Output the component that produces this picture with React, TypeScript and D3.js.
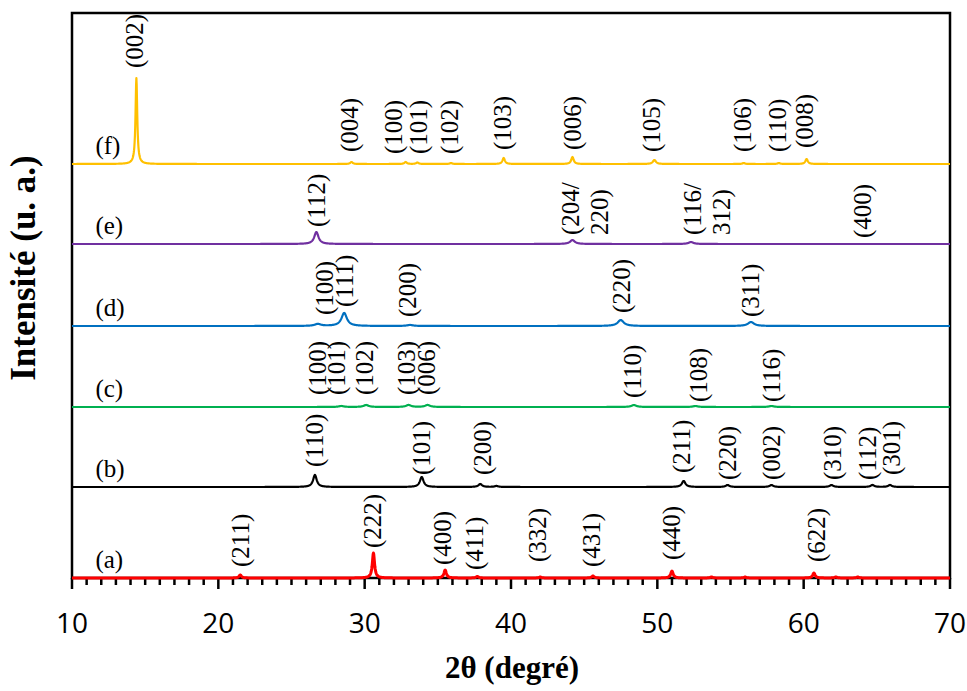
import React from "react";
import * as d3 from "d3";

// ---- data ----
const seriesNames = ["(a)", "(b)", "(c)", "(d)", "(e)", "(f)"];
const seriesColors = ["#FF0000", "#000000", "#00B050", "#0070C0", "#7030A0", "#FFC000"];
const seriesOffsets = [0, 91, 171, 252, 334, 414];
const seriesWidths = [3, 2.2, 2.2, 2.2, 2.2, 2.2];

// peaks: [2θ, height, FWHM]
const peaksA: [number, number, number][] = [
  [21.5, 3, 0.2], [30.6, 25, 0.18], [35.5, 8, 0.2], [37.7, 1.5, 0.2], [42.0, 1, 0.2],
  [45.6, 2, 0.2], [51.0, 7, 0.2], [53.7, 1, 0.2], [56.0, 1, 0.2], [60.7, 5, 0.2],
  [62.2, 1, 0.2], [63.7, 1, 0.2],
];
const peaksB: [number, number, number][] = [
  [26.6, 12, 0.3], [33.9, 10, 0.3], [37.9, 3, 0.3], [39.0, 1, 0.3], [51.8, 6, 0.3],
  [54.8, 2, 0.3], [57.8, 2, 0.3], [61.9, 2, 0.3], [64.7, 2, 0.3], [65.9, 2, 0.3],
];
const peaksC: [number, number, number][] = [
  [28.4, 1, 0.4], [30.1, 2, 0.4], [33.0, 2, 0.4], [34.3, 2, 0.4], [48.4, 2, 0.4],
  [52.6, 1, 0.4], [57.8, 1, 0.4],
];
const peaksD: [number, number, number][] = [
  [26.8, 2, 0.5], [28.6, 13, 0.45], [33.1, 1, 0.5], [47.5, 6, 0.5], [56.4, 4, 0.5],
];
const peaksE: [number, number, number][] = [
  [26.7, 12, 0.35], [44.2, 4, 0.4], [52.3, 2, 0.4],
];
const peaksF: [number, number, number][] = [
  [14.4, 86, 0.14], [29.1, 2, 0.2], [32.8, 2, 0.2], [33.6, 1.5, 0.2], [35.9, 1, 0.2],
  [39.5, 6, 0.2], [44.2, 7, 0.2], [49.8, 4, 0.25], [55.9, 1, 0.2], [58.3, 1, 0.2],
  [60.2, 5, 0.2],
];
const allPeaks = [peaksA, peaksB, peaksC, peaksD, peaksE, peaksF];

// peak labels: [text lines, 2θ, intensity units of label start]
type Lbl = [string[], number, number];
const labelsA: Lbl[] = [
  [["(211)"], 21.5, 11], [["(222)"], 30.55, 30], [["(400)"], 35.35, 13], [["(411)"], 37.55, 8],
  [["(332)"], 41.8, 16], [["(431)"], 45.55, 11], [["(440)"], 51.0, 18], [["(622)"], 60.9, 16],
];
const labelsB: Lbl[] = [
  [["(110)"], 26.6, 111], [["(101)"], 33.9, 103], [["(200)"], 38.1, 103], [["(211)"], 51.7, 105],
  [["(220)"], 54.8, 98], [["(002)"], 57.85, 98], [["(310)"], 62.0, 98], [["(112)"], 64.4, 98],
  [["(301)"], 66.05, 103],
];
const labelsC: Lbl[] = [
  [["(100)"], 26.8, 183], [["(101)"], 28.1, 183], [["(102)"], 30.0, 183], [["(103)"], 32.9, 183],
  [["(006)"], 34.25, 183], [["(110)"], 48.3, 180], [["(108)"], 52.8, 176], [["(116)"], 57.85, 176],
];
const labelsD: Lbl[] = [
  [["(100)"], 27.3, 263], [["(111)"], 28.65, 271], [["(200)"], 32.95, 261], [["(220)"], 47.6, 265],
  [["(311)"], 56.35, 261],
];
const labelsE: Lbl[] = [
  [["(112)"], 26.75, 351], [["(204/", "220)"], 44.1, 343], [["(116/", "312)"], 52.45, 343],
  [["(400)"], 64.05, 340],
];
const labelsF: Lbl[] = [
  [["(002)"], 14.3, 510], [["(004)"], 29.0, 426], [["(100)"], 32.0, 424], [["(101)"], 33.7, 424],
  [["(102)"], 35.8, 424], [["(103)"], 39.45, 428], [["(006)"], 44.2, 428], [["(105)"], 49.6, 426],
  [["(106)"], 55.85, 426], [["(110)"], 58.25, 426], [["(008)"], 60.1, 430],
];
const allLabels = [labelsA, labelsB, labelsC, labelsD, labelsE, labelsF];

const xTicks = [10, 20, 30, 40, 50, 60, 70];
const xDomain: [number, number] = [10, 70];
const yDomain: [number, number] = [0, 565];
const seriesLabelX = 11.6;
const seriesLabelLift = 10;

const W = 967;
const H = 691;
const M = { left: 72, right: 950, top: 13, bottom: 578 };

export default function App() {
  const x = d3.scaleLinear().domain(xDomain).range([M.left, M.right]);
  const y = d3.scaleLinear().domain(yDomain).range([M.bottom, M.top]);

  const grid = d3.range(xDomain[0], xDomain[1] + 0.0001, 0.02);
  const line = d3
    .line<[number, number]>()
    .x((d) => x(d[0]))
    .y((d) => y(d[1]));

  const curves = allPeaks.map((peaks, i) =>
    grid.map((t) => {
      let v = seriesOffsets[i];
      for (const [p, h, w] of peaks) {
        const u = (t - p) / (w / 2);
        v += h / (1 + u * u);
      }
      return [t, v] as [number, number];
    })
  );

  const minor = d3.range(xDomain[0], xDomain[1] + 0.001, 1);
  const serif = "'Liberation Serif', 'Times New Roman', serif";
  const fs = 25;

  return (
    <svg width={W} height={H} style={{ position: "absolute", left: 0, top: 0, background: "#fff" }}>
      <rect x={0} y={0} width={W} height={H} fill="#fff" />
      {/* frame */}
      <rect
        x={M.left}
        y={M.top}
        width={M.right - M.left}
        height={M.bottom - M.top}
        fill="none"
        stroke="#000"
        strokeWidth={2.5}
      />
      {/* ticks */}
      {minor.map((t) => {
        const major = Math.abs(t % 10) < 1e-6;
        return (
          <line
            key={"t" + t}
            x1={x(t)}
            x2={x(t)}
            y1={M.bottom}
            y2={M.bottom + (major ? 11 : 7)}
            stroke="#000"
            strokeWidth={2.5}
          />
        );
      })}
      {xTicks.map((t) => (
        <text
          key={"l" + t}
          x={x(t)}
          y={633}
          textAnchor="middle"
          fontFamily="'Open Sans', sans-serif"
          fontSize={28}
          fill="#000"
        >
          {t}
        </text>
      ))}
      {/* curves */}
      {curves.map((c, i) => (
        <path
          key={"c" + i}
          d={line(c) || ""}
          fill="none"
          stroke={seriesColors[i]}
          strokeWidth={seriesWidths[i]}
          strokeLinejoin="round"
        />
      ))}
      {/* series labels */}
      {seriesNames.map((n, i) => (
        <text
          key={"s" + i}
          x={x(seriesLabelX)}
          y={y(seriesOffsets[i] + seriesLabelLift)}
          fontFamily={serif}
          fontSize={fs}
          fill="#000"
        >
          {n}
        </text>
      ))}
      {/* peak labels */}
      {allLabels.map((lbls, i) =>
        lbls.map(([lines, p, v], j) => (
          <text
            key={`p${i}-${j}`}
            transform={`translate(${x(p)},${y(v)}) rotate(-90)`}
            fontFamily={serif}
            fontSize={fs}
            fill="#000"
          >
            {lines.map((ln, k) => (
              <tspan key={k} x={0} dy={k === 0 ? "0.33em" : "1.15em"}>
                {ln}
              </tspan>
            ))}
          </text>
        ))
      )}
      {/* axis titles */}
      <text
        x={512}
        y={678}
        textAnchor="middle"
        fontFamily={serif}
        fontWeight="bold"
        fontSize={31}
        fill="#000"
      >
        2θ (degré)
      </text>
      <text
        transform={`translate(35,268) rotate(-90)`}
        textAnchor="middle"
        fontFamily={serif}
        fontWeight="bold"
        fontSize={35}
        fill="#000"
      >
        Intensité (u. a.)
      </text>
    </svg>
  );
}
